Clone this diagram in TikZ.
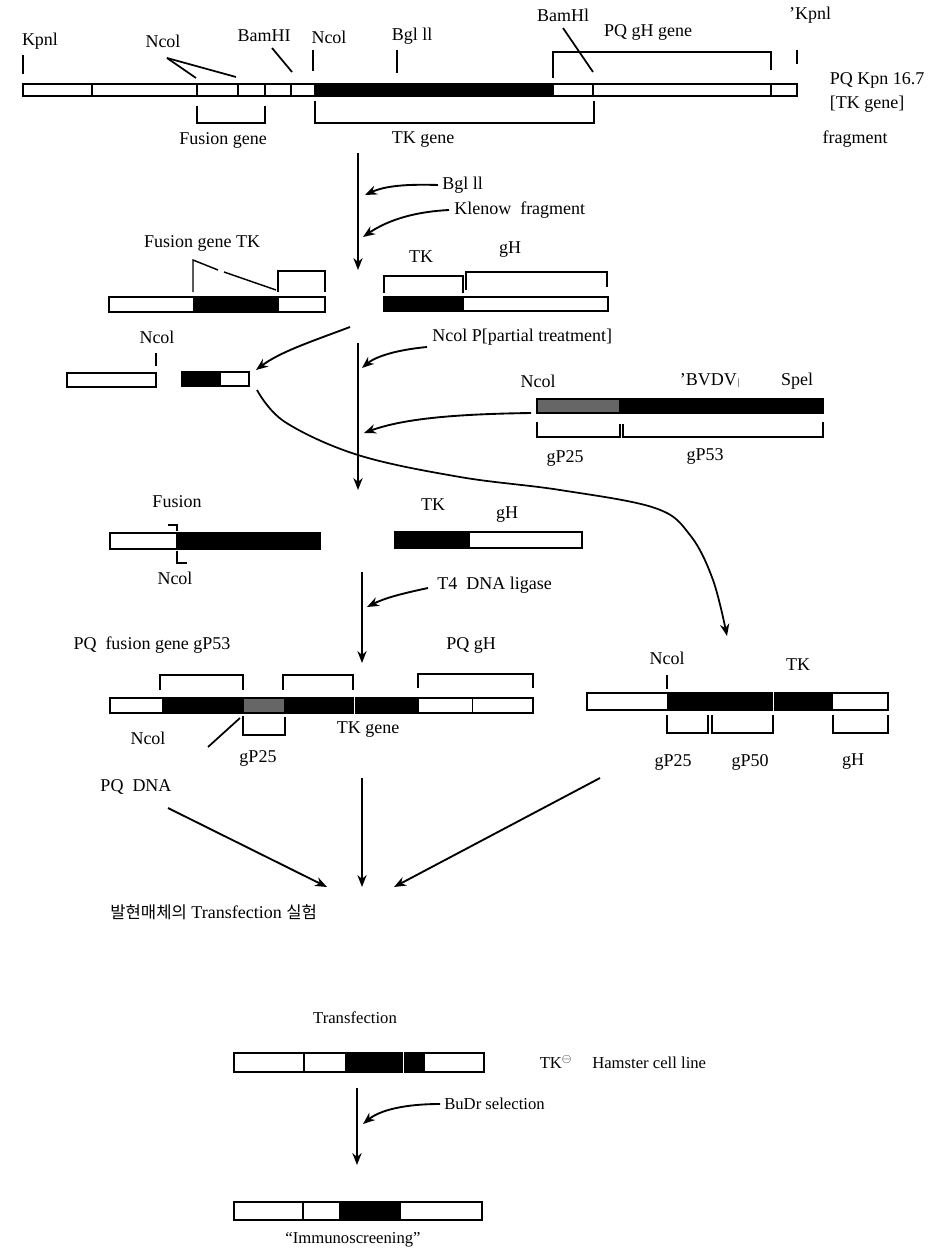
\documentclass[tikz,border=0pt]{standalone}
\usepackage{fontspec}
\setmainfont{Liberation Serif}
\newfontfamily\krfont{Noto Sans CJK KR}
\usetikzlibrary{arrows.meta}
\newcommand{\sqt}{{\char"27}}
\tikzset{
 lbl/.style={font=\fontsize{13.5}{15}\selectfont, inner sep=0pt},
 slbl/.style={font=\fontsize{12.5}{14}\selectfont, inner sep=0pt},
 bar/.style={draw, line width=1.4pt},
 wseg/.style={bar, fill=white},
 bseg/.style={bar, fill=black},
 gseg/.style={bar, fill=black!60},
 brk/.style={line width=1.1pt},
 tck/.style={line width=1.3pt},
 arr/.style={line width=1pt, -{Stealth[length=9pt,width=7pt]}},
 carr/.style={line width=1.4pt, -{Stealth[length=9pt,width=7pt]}},
}
\begin{document}
\begin{tikzpicture}[x=0.75pt,y=-0.75pt]
\useasboundingbox[fill=white] (0,0) rectangle (936,1256);

% ---------------- top fragment ----------------
\draw[wseg] (23,84) rectangle (315,96);
\draw[bseg] (315,84) rectangle (553,96);
\draw[wseg] (553,84) rectangle (797,96);
\foreach \x in {92,197,238,265,291,593,771} \draw[line width=0.8pt] (\x,84) -- (\x,96);

\node[lbl] (kpn1) at (40,41) {Kpnl};
\draw[tck] (23,55) -- (23,74);
\node[lbl] (nco1) at (163,41) {Ncol};
\draw[tck] (167,58) -- (196,78);
\draw[tck] (167,58) -- (236,77);
\node[lbl] (bam1) at (264,36) {BamHI};
\draw[tck] (272,48) -- (292,72);
\node[lbl] (nco2) at (329,37) {Ncol};
\draw[tck] (313,50) -- (313,71);
\node[lbl] (bgl1) at (412,36) {Bgl ll};
\draw[tck] (397,50) -- (397,73);
\node[lbl] (bam2) at (563,15) {BamHl};
\draw[tck] (563,28) -- (593,72);
\node[lbl] (pqgh) at (648,32) {PQ gH gene};
\draw[brk] (553,78) -- (553,52) -- (771,52) -- (771,70);
\node[lbl] (kpn2) at (810,15) {\sqt Kpnl};
\draw[tck] (797,50) -- (797,64);
\node[lbl] (pqk) at (877,80) {PQ Kpn 16.7};
\node[lbl] (tkg) at (867,104) {[TK gene]};
\node[lbl] (frag) at (855,139) {fragment};
\draw[brk] (197,106) -- (197,123) -- (265,123) -- (265,106);
\node[lbl] (fusg) at (223,140) {Fusion gene};
\draw[brk] (315,101) -- (315,123) -- (594,123) -- (594,101);
\node[lbl] (tkgene) at (423,140) {TK gene};

% ---------------- step 1 ----------------
\coordinate (m1s) at (358,153); \coordinate (m1e) at (358,270);
\draw[arr] (m1s) -- (m1e);
\node[lbl, anchor=west] (bgl2) at (442,185) {Bgl ll};
\coordinate (c1s) at (438,185); \coordinate (c1e) at (365,195);
\draw[carr] (c1s) .. controls (405,184) and (385,186) .. (c1e);
\node[lbl, anchor=west] (klen) at (454,210) {Klenow\ \ fragment};
\coordinate (c2s) at (449,210); \coordinate (c2e) at (363,237);
\draw[carr] (c2s) .. controls (410,212) and (385,222) .. (c2e);

% ---------------- row B ----------------
\draw[wseg] (109,297) rectangle (194,312);
\draw[bseg] (194,297) rectangle (278,312);
\draw[wseg] (278,297) rectangle (325,312);
\node[lbl] (fgtk) at (202,243) {Fusion gene TK};
\draw[brk] (193,292) -- (193,260) -- (218,270);
\draw[brk] (224,272) -- (276,290);
\draw[brk] (278,292) -- (278,271) -- (325,271) -- (325,292);

\draw[bseg] (384,297) rectangle (463,311);
\draw[wseg] (463,297) rectangle (608,311);
\draw[brk] (384,293) -- (384,276) -- (463,276) -- (463,293);
\draw[brk] (466,290) -- (466,272) -- (607,272) -- (607,287);
\node[lbl] (tk2) at (421,257) {TK};
\node[lbl] (gh2) at (510,250) {gH};

\node[lbl] (nco3) at (157,337) {Ncol};
\draw[tck] (156,353) -- (156,366);
\node[lbl, anchor=west] (ncop) at (432,337) {Ncol P[partial treatment]};
\coordinate (c3s) at (427,347); \coordinate (c3e) at (362,368);
\draw[carr] (c3s) .. controls (395,350) and (375,357) .. (c3e);

\draw[wseg] (67,373) rectangle (156,387);
\draw[bseg] (182,372) rectangle (220,386);
\draw[wseg] (220,372) rectangle (249,386);
\coordinate (c4s) at (350,327); \coordinate (c4e) at (256,370);
\draw[carr] (c4s) .. controls (310,342) and (280,352) .. (c4e);
\coordinate (m2s) at (358,343); \coordinate (m2e) at (358,490);
\draw[arr] (m2s) -- (m2e);

% ---------------- BVDV ----------------
\node[lbl] (nco4) at (538,381) {Ncol};
\node[lbl] (bvdv) at (710,381) {\sqt BVDV{\scriptsize$|$}};
\node[lbl] (spel) at (797,381) {Spel};
\draw[gseg] (537,399) rectangle (620,413);
\draw[bseg] (621,399) rectangle (823,413);
\draw[brk] (537,422) -- (537,437) -- (620,437) -- (620,424);
\draw[brk] (623,424) -- (623,437) -- (823,437) -- (823,422);
\node[lbl] (gp25a) at (565,458) {gP25};
\node[lbl] (gp53a) at (705,456) {gP53};
\coordinate (c5s) at (531,413); \coordinate (c5e) at (364,433);
\draw[carr] (c5s) .. controls (460,414) and (405,418) .. (c5e);

% big curved arrow
\draw[line width=1.3pt, -{Stealth[length=9pt,width=7pt]}] plot[smooth, tension=0.6] coordinates {(257,390) (285,422) (358,455) (460,477) (560,490) (655,508) (690,535) (713,580) (727,636)};

% ---------------- row C ----------------
\node[lbl] (fus) at (177,502) {Fusion};
\draw[wseg] (110,533) rectangle (177,549);
\draw[bseg] (177,533) rectangle (320,549);
\draw[brk] (168,525) -- (177,525) -- (177,531);
\draw[brk] (177,551) -- (177,563) -- (187,563);
\node[lbl] (nco5) at (175,578) {Ncol};
\node[lbl] (tk3) at (433,505) {TK};
\node[lbl] (gh3) at (507,515) {gH};
\draw[bseg] (395,532) rectangle (469,548);
\draw[wseg] (469,532) rectangle (582,548);

\coordinate (m3s) at (362,572); \coordinate (m3e) at (362,663);
\draw[arr] (m3s) -- (m3e);
\node[lbl, anchor=west] (t4) at (437,585) {T4\ \ DNA ligase};
\coordinate (c6s) at (428,588); \coordinate (c6e) at (367,607);
\draw[carr] (c6s) .. controls (400,594) and (385,598) .. (c6e);

% ---------------- row D ----------------
\node[lbl] (pqf) at (152,645) {PQ\ \ fusion gene gP53};
\node[lbl] (pqgh2) at (471,645) {PQ gH};
\draw[brk] (160,690) -- (160,675) -- (243,675) -- (243,690);
\draw[brk] (283,690) -- (283,675) -- (353,675) -- (353,690);
\draw[brk] (418,688) -- (418,674) -- (533,674) -- (533,688);
\draw[wseg] (110,698) rectangle (163,713);
\draw[bseg] (163,698) rectangle (243,713);
\draw[gseg] (243,698) rectangle (285,713);
\draw[bseg] (285,698) rectangle (353,713);
\draw[bseg] (356,698) rectangle (418,713);
\draw[wseg] (418,698) rectangle (533,713);
\draw[line width=0.6pt] (472,698) -- (472,713);
\node[lbl] (nco6) at (148,738) {Ncol};
\draw[tck] (208,747) -- (240,718);
\draw[brk] (243,716) -- (243,735) -- (285,735) -- (285,717);
\node[lbl] (gp25b) at (258,758) {gP25};
\node[lbl] (tkg2) at (368,730) {TK gene};

\node[lbl] (nco7) at (667,658) {Ncol};
\draw[tck] (667,675) -- (667,689);
\node[lbl] (tk4) at (798,665) {TK};
\draw[wseg] (587,693) rectangle (668,710);
\draw[bseg] (668,693) rectangle (772,710);
\draw[bseg] (775,693) rectangle (832,710);
\draw[wseg] (832,693) rectangle (888,710);
\draw[brk] (667,715) -- (667,733) -- (708,733) -- (708,715);
\draw[brk] (712,715) -- (712,733) -- (773,733) -- (773,715);
\draw[brk] (833,715) -- (833,733) -- (888,733) -- (888,715);
\node[lbl] (gp25c) at (673,762) {gP25};
\node[lbl] (gp50) at (750,762) {gP50};
\node[lbl] (gh4) at (853,762) {gH};

% ---------------- convergence ----------------
\node[lbl] (pqdna) at (136,787) {PQ\ \ DNA};
\coordinate (l1s) at (168,808); \coordinate (l1e) at (327,887);
\coordinate (l2s) at (362,778); \coordinate (l2e) at (362,887);
\coordinate (l3s) at (600,778); \coordinate (l3e) at (394,887);
\draw[carr] (l1s) -- (l1e);
\draw[arr] (l2s) -- (l2e);
\draw[carr] (l3s) -- (l3e);
\node[lbl, anchor=west] (kor) at (110,912) {{\krfont\fontsize{12.5}{14}\selectfont 발현매체의} Transfection {\krfont\fontsize{12.5}{14}\selectfont 실험}};

% ---------------- bottom ----------------
\node[slbl] (trf) at (355,1018) {Transfection};
\draw[wseg] (234,1053) rectangle (346,1072);
\draw[line width=0.8pt] (304,1053) -- (304,1072);
\draw[bseg] (346,1053) rectangle (402,1072);
\draw[bseg] (405,1053) rectangle (424,1072);
\draw[wseg] (424,1053) rectangle (484,1072);
\node[slbl] (tkm) at (556,1062) {TK$^{\ominus}$};
\node[slbl, anchor=west] (ham) at (592,1063) {Hamster cell line};
\coordinate (m4s) at (357,1088); \coordinate (m4e) at (357,1165);
\draw[arr] (m4s) -- (m4e);
\node[slbl, anchor=west] (budr) at (444,1104) {BuDr selection};
\coordinate (c7s) at (440,1104); \coordinate (c7e) at (363,1124);
\draw[carr] (c7s) .. controls (405,1104) and (380,1110) .. (c7e);
\draw[wseg] (234,1202) rectangle (340,1220);
\draw[line width=0.8pt] (303,1202) -- (303,1220);
\draw[bseg] (340,1202) rectangle (400,1220);
\draw[wseg] (400,1202) rectangle (482,1220);
\node[slbl] (imm) at (353,1240) {``Immunoscreening''};
\end{tikzpicture}
\end{document}
